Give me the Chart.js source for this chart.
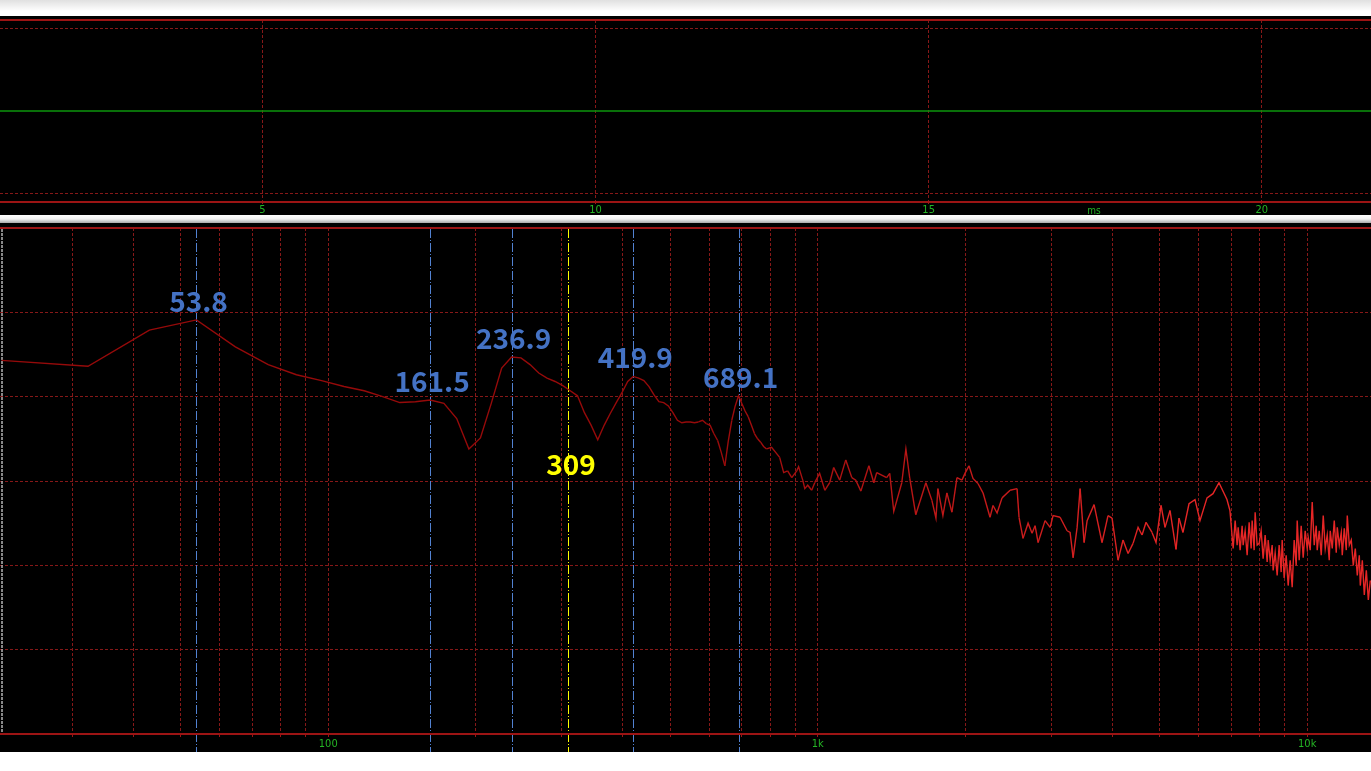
<!DOCTYPE html>
<html>
<head>
<meta charset="utf-8">
<script src="https://cdn.jsdelivr.net/npm/chart.js@4.4.1/dist/chart.umd.min.js"></script>
<style>
  html, body { margin: 0; padding: 0; background: #fff; width: 1371px; height: 771px; overflow: hidden; }
  #topBand { position: absolute; left: 0; top: 0; width: 1371px; height: 16px; background: linear-gradient(#e0e0e0, #ffffff 70%); }
  #timeBox { position: absolute; left: 0; top: 16px; width: 1371px; height: 199px; background: #000; }
  #sep { position: absolute; left: 0; top: 215px; width: 1371px; height: 8px; background: linear-gradient(#ffffff, #f2f2f2 50%, #a8a8a8); }
  #freqBox { position: absolute; left: 0; top: 223px; width: 1371px; height: 529px; background: #000; }
</style>
</head>
<body>
<div id="topBand"></div>
<div id="timeBox"><canvas id="timeChart"></canvas></div>
<div id="sep"></div>
<div id="freqBox"><canvas id="freqChart"></canvas></div>
<script>
// ---- impulse panel (time in ms) ----
const timeMs = [1.06, 21.64];
const impulseLevel = [0, 0];
const timeTicks = [5, 10, 15, 20];
const timeUnitAt = 17.48;

// ---- frequency response panel ----
const freqHz = [
  21.5, 32.3, 43.1, 53.8, 64.6, 75.4, 86.1, 96.9, 107.7, 118.4,
  129.2, 140.0, 150.7, 161.5, 172.3, 183.0, 193.8, 204.6, 215.3, 226.1,
  236.9, 247.6, 258.4, 269.2, 279.9, 290.7, 301.5, 312.2, 323.0, 333.7,
  344.5, 355.3, 366.1, 376.8, 387.6, 398.4, 409.1, 419.9, 430.7, 441.4,
  452.2, 463.0, 473.7, 484.5, 495.3, 506.0, 516.8, 527.6, 538.3, 549.1,
  559.9, 570.6, 581.4, 592.2, 602.9, 613.7, 624.5, 635.2, 646.0, 656.8,
  667.5, 678.3, 689.1, 699.8, 710.6, 721.4, 732.1, 742.9, 753.7, 764.4,
  775.2, 786.0,
  805, 836, 852, 868, 885, 906, 914, 932, 941, 954, 972, 986,
  1009, 1034, 1058, 1078, 1109, 1141, 1174, 1196, 1225, 1272,
  1302, 1320, 1383, 1403, 1430, 1485, 1514, 1542, 1586,
  1663, 1711, 1744, 1760, 1802, 1836, 1880, 1925, 1971, 1999,
  2037, 2076, 2125, 2176, 2249, 2281, 2325, 2380, 2472,
  2554, 2578, 2627, 2690, 2741, 2780, 2820, 2914, 2984, 3026,
  3127, 3232, 3278, 3325, 3388, 3436, 3501, 3551, 3669,
  3809, 3918, 3993, 4107, 4205, 4305, 4408, 4513, 4598, 4685,
  4819, 4911, 5028, 5123, 5245, 5395, 5472, 5575, 5735,
  5899, 6039, 6242, 6420, 6603, 6856, 6953,
  7058, 7125, 7192, 7226, 7294, 7363, 7398, 7468, 7539, 7610,
  7682, 7718, 7791, 7828, 7902, 7977, 8052, 8128, 8205, 8283,
  8322, 8401, 8480, 8520, 8601, 8682, 8764, 8847, 8889, 8973,
  9058, 9144, 9230, 9318, 9406, 9495, 9540, 9630, 9721, 9813,
  9906, 10000, 10047, 10142, 10238, 10335, 10433, 10482, 10582, 10682,
  10783, 10885, 10988, 11092, 11145, 11250, 11357, 11464, 11519, 11628,
  11738, 11793, 11905, 12018, 12074, 12189, 12304, 12421, 12539, 12657,
  12777, 12838, 12959, 13082, 13206, 13331, 13457
];
const levelDb = [
  84.3, 83.6, 87.9, 89.1, 85.9, 83.8, 82.6, 81.9, 81.2, 80.7,
  80.0, 79.3, 79.4, 79.6, 79.2, 77.4, 73.8, 75.1, 79.2, 83.4,
  84.7, 84.6, 83.8, 82.8, 82.2, 81.8, 81.3, 80.7, 80.1, 78.1,
  76.6, 74.9, 76.6, 78.0, 79.3, 80.5, 81.8, 82.4, 82.2, 81.9,
  81.2, 80.2, 79.4, 79.3, 78.9, 78.1, 77.2, 76.9, 77.0, 77.0,
  76.9, 77.0, 77.2, 76.8, 76.6, 75.6, 74.8, 73.4, 71.8, 74.8,
  77.2, 78.9, 80.1, 79.2, 78.3, 77.6, 76.6, 75.6, 75.0, 74.6,
  74.1, 73.8,
  74.0, 72.8, 71.0, 71.2, 70.4, 71.2, 71.7, 70.1, 69.1, 69.5, 68.9, 69.8,
  70.9, 68.9, 69.8, 71.6, 70.1, 72.5, 70.4, 70.1, 68.8, 71.8,
  69.8, 71.0, 70.4, 70.9, 66.4, 69.8, 73.8, 70.3, 66.0,
  69.8, 67.7, 65.6, 69.1, 65.9, 68.6, 66.3, 70.4, 70.1, 70.9,
  71.8, 70.3, 69.7, 68.6, 65.7, 67.1, 66.2, 68.0, 68.9,
  69.1, 65.7, 63.2, 65.0, 63.8, 64.7, 62.7, 65.3, 64.5, 65.9,
  65.7, 64.1, 63.9, 60.9, 64.5, 69.1, 62.7, 65.3, 67.2,
  62.7, 65.9, 65.6, 60.6, 63.0, 61.4, 62.6, 64.5, 63.6, 65.1,
  63.9, 62.7, 67.1, 64.5, 66.5, 61.9, 65.6, 63.9, 67.3,
  67.8, 65.3, 68.0, 68.5, 69.8, 67.8, 66.5,
  62.0, 65.3, 62.4, 64.5, 61.8, 64.7, 62.4, 64.1, 61.2, 65.1,
  62.0, 65.3, 61.8, 66.3, 62.4, 62.6, 64.1, 60.8, 63.6, 60.4,
  63.0, 60.6, 62.4, 59.4, 61.5, 58.8, 62.4, 59.2, 63.0, 58.5,
  61.2, 57.6, 60.6, 57.4, 63.0, 60.0, 65.3, 60.6, 64.7, 60.9,
  64.1, 62.0, 63.3, 61.8, 67.5, 62.4, 64.7, 61.8, 64.1, 61.2,
  65.9, 62.0, 63.6, 60.6, 64.1, 62.0, 65.3, 61.5, 64.5, 62.4,
  63.9, 61.2, 64.4, 61.8, 65.9, 62.4, 63.0, 60.0, 62.0, 58.8,
  61.2, 57.6, 60.6, 56.5, 59.4, 55.9, 58.2
];
const freqGrid = [30, 40, 50, 60, 70, 80, 90, 100, 200, 300, 400, 500, 600, 700, 800, 900,
                  1000, 2000, 3000, 4000, 5000, 6000, 7000, 8000, 9000, 10000];
const freqTickText = { 100: '100', 1000: '1k', 10000: '10k' };
const levelGrid = [40, 50, 60, 70, 80, 90, 100];
const peakHz = [53.8, 161.5, 236.9, 419.9, 689.1];
const peakLabels = ['53.8', '161.5', '236.9', '419.9', '689.1'];
const cursorHz = 309;
const cursorLabel = '309';

const GRID_RED = '#861818';
const BORDER_RED = '#9c1414';
const TICK_GREEN = '#24b424';
const TICK_FAMILY = '"Liberation Sans Narrow", "DejaVu Sans Condensed", "DejaVu Sans", sans-serif';
const TICK_FONT = { family: TICK_FAMILY, size: 11 };
const LABEL_FONT = 'bold 28px "Noto Sans CJK SC", "Noto Sans", sans-serif';

function curveColor(f) {
  let t = (Math.log10(f) - 2.75) / 1.0;
  t = Math.max(0, Math.min(1, t));
  const r = Math.round(150 + 80 * t), g = Math.round(10 + 28 * t);
  return `rgb(${r},${g},${g})`;
}

const panelBorders = {
  id: 'panelBorders',
  afterDraw(chart) {
    const { ctx, chartArea: a } = chart;
    ctx.save();
    ctx.strokeStyle = BORDER_RED;
    ctx.lineWidth = 2;
    ctx.beginPath();
    ctx.moveTo(0, a.top); ctx.lineTo(chart.width, a.top);
    ctx.moveTo(0, a.bottom); ctx.lineTo(chart.width, a.bottom);
    ctx.stroke();
    ctx.restore();
  }
};

const timeUnit = {
  id: 'timeUnit',
  afterDraw(chart) {
    const { ctx, chartArea: a, scales: { x } } = chart;
    ctx.save();
    ctx.fillStyle = TICK_GREEN;
    ctx.font = '10px ' + TICK_FAMILY;
    ctx.textAlign = 'center';
    ctx.textBaseline = 'top';
    ctx.fillText('ms', x.getPixelForValue(timeUnitAt), a.bottom + 4);
    ctx.restore();
  }
};

const freqMarks = {
  id: 'freqMarks',
  beforeDatasetsDraw(chart) {
    const { ctx, chartArea: a, scales: { x } } = chart;
    ctx.save();
    // left edge cursor
    ctx.strokeStyle = '#b4b4b4';
    ctx.lineWidth = 1.5;
    ctx.setLineDash([3, 1]);
    ctx.beginPath();
    ctx.moveTo(a.left + 2, a.top + 1);
    ctx.lineTo(a.left + 2, a.bottom - 2);
    ctx.stroke();
    // peak markers
    ctx.lineWidth = 1;
    ctx.setLineDash([9, 2, 1, 2]);
    ctx.strokeStyle = '#5282d2';
    peakHz.forEach(f => {
      const px = Math.round(x.getPixelForValue(f)) + 0.5;
      ctx.beginPath();
      ctx.moveTo(px, a.top + 1);
      ctx.lineTo(px, chart.height);
      ctx.stroke();
    });
    // cursor
    ctx.strokeStyle = '#ffff00';
    const cx = Math.round(x.getPixelForValue(cursorHz)) + 0.5;
    ctx.beginPath();
    ctx.moveTo(cx, a.top + 1);
    ctx.lineTo(cx, chart.height);
    ctx.stroke();
    ctx.restore();
  },
  afterDatasetsDraw(chart) {
    const { ctx, scales: { x, y } } = chart;
    ctx.save();
    ctx.font = LABEL_FONT;
    ctx.textAlign = 'center';
    ctx.textBaseline = 'alphabetic';
    ctx.fillStyle = '#4472c4';
    peakHz.forEach((f, i) => {
      const db = levelDb[freqHz.indexOf(f)];
      ctx.fillText(peakLabels[i], x.getPixelForValue(f) + 2, y.getPixelForValue(db) - 8);
    });
    ctx.fillStyle = '#ffff00';
    ctx.fillText(cursorLabel, x.getPixelForValue(cursorHz) + 3, y.getPixelForValue(70.7));
    ctx.restore();
  }
};

Chart.defaults.animation = false;

new Chart(document.getElementById('timeChart'), {
  type: 'line',
  data: {
    datasets: [{
      data: timeMs.map((t, i) => ({ x: t, y: impulseLevel[i] })),
      borderColor: '#0c960c',
      borderWidth: 1.6,
      pointRadius: 0
    }]
  },
  options: {
    responsive: true,
    maintainAspectRatio: false,
    events: [],
    layout: { padding: { top: 4, left: 0, right: 0, bottom: 0 } },
    plugins: { legend: { display: false }, tooltip: { enabled: false } },
    scales: {
      x: {
        type: 'linear',
        min: timeMs[0],
        max: timeMs[1],
        afterBuildTicks: s => { s.ticks = timeTicks.map(v => ({ value: v })); },
        afterFit: s => { s.height = 13; },
        grid: { color: GRID_RED, lineWidth: 1, drawTicks: true, tickLength: 2, tickColor: BORDER_RED },
        border: { display: false, dash: [3, 2] },
        ticks: { color: TICK_GREEN, font: TICK_FONT, padding: 0, maxRotation: 0, autoSkip: false }
      },
      y: {
        min: -1.1,
        max: 1.1,
        afterBuildTicks: s => { s.ticks = [{ value: -1 }, { value: 1 }]; },
        afterFit: s => { s.width = 0; },
        grid: { color: GRID_RED, lineWidth: 1, drawTicks: false },
        border: { display: false, dash: [3, 2] },
        ticks: { display: false }
      }
    }
  },
  plugins: [panelBorders, timeUnit]
});

new Chart(document.getElementById('freqChart'), {
  type: 'line',
  data: {
    datasets: [{
      data: freqHz.map((f, i) => ({ x: f, y: levelDb[i] })),
      borderColor: '#c01818',
      borderWidth: 1.4,
      pointRadius: 0,
      tension: 0,
      segment: { borderColor: c => curveColor(c.p0.parsed.x) }
    }]
  },
  options: {
    responsive: true,
    maintainAspectRatio: false,
    events: [],
    layout: { padding: { top: 5, left: 0, right: 0, bottom: 0 } },
    plugins: { legend: { display: false }, tooltip: { enabled: false } },
    scales: {
      x: {
        type: 'logarithmic',
        min: 21.35,
        max: 13500,
        afterBuildTicks: s => { s.ticks = freqGrid.map(v => ({ value: v })); },
        afterFit: s => { s.height = 18; },
        grid: { color: GRID_RED, lineWidth: 1, drawTicks: true, tickLength: 3, tickColor: BORDER_RED },
        border: { display: false, dash: [3, 2] },
        ticks: {
          color: TICK_GREEN, font: TICK_FONT, padding: 1, maxRotation: 0, autoSkip: false,
          callback: v => freqTickText[v] || ''
        }
      },
      y: {
        min: 40,
        max: 100,
        afterBuildTicks: s => { s.ticks = levelGrid.map(v => ({ value: v })); },
        afterFit: s => { s.width = 0; },
        grid: {
          color: c => (c.tick && (c.tick.value === 40 || c.tick.value === 100)) ? 'rgba(0,0,0,0)' : GRID_RED,
          lineWidth: 1, drawTicks: false
        },
        border: { display: false, dash: [3, 2] },
        ticks: { display: false }
      }
    }
  },
  plugins: [panelBorders, freqMarks]
});
</script>
</body>
</html>
